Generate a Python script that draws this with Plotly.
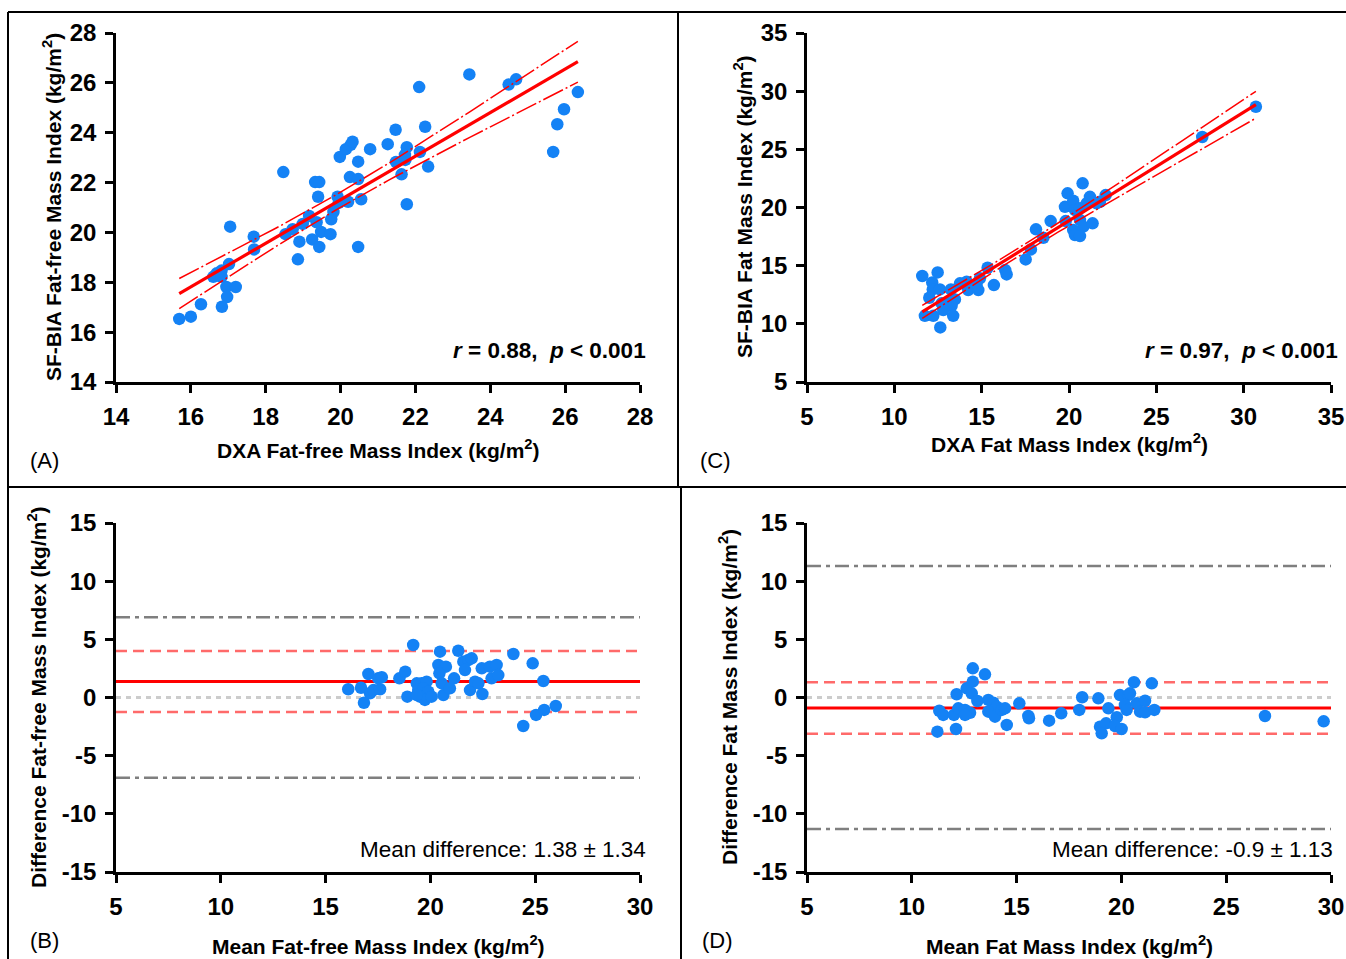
import numpy as np
import plotly.graph_objects as go

W, H = 1346, 959

# ---------------- DATA ----------------
# Panel A: DXA FFMI (x) vs SF-BIA FFMI (y)
a_x = [15.69, 16.00, 16.27, 16.60, 16.69, 16.82, 16.82, 17.02, 16.95, 17.20, 16.97, 16.83,
       17.05, 17.68, 17.69, 18.47, 18.53, 18.72, 18.90, 18.86, 18.99, 19.16, 19.24, 19.36,
       19.43, 19.48, 19.73, 19.32, 19.43, 19.40, 19.75, 19.81, 19.92, 19.95, 20.20, 19.98,
       20.14, 20.27, 20.32, 20.47, 20.25, 20.47, 20.55, 20.47, 20.79, 21.26, 21.47, 21.48,
       21.63, 21.77, 21.77, 21.72, 21.73, 22.12, 22.26, 22.10, 22.34, 23.44, 24.49, 24.69,
       25.68, 25.79, 25.97, 26.34]
a_y = [16.53, 16.62, 17.12, 18.22, 18.36, 18.47, 18.22, 18.73, 17.81, 17.81, 17.41, 17.02,
       20.23, 19.83, 19.32, 22.42, 19.93, 20.13, 19.63, 18.92, 20.34, 20.66, 19.72, 20.41,
       19.42, 20.02, 19.93, 22.02, 22.02, 21.43, 20.53, 20.82, 21.43, 21.19, 21.23, 23.03,
       23.34, 23.51, 23.64, 22.84, 22.22, 22.14, 21.33, 19.42, 23.34, 23.54, 24.12, 22.83,
       22.33, 21.13, 23.42, 23.11, 22.91, 23.23, 24.24, 25.83, 22.64, 26.34, 25.93, 26.14,
       23.23, 24.34, 24.94, 25.63]

# Panel C: DXA FMI (x) vs SF-BIA FMI (y)
c_x = [11.60, 12.48, 12.17, 12.20, 12.61, 13.24, 12.00, 12.71, 13.09, 13.47, 13.28, 12.80,
       11.75, 12.23, 13.37, 12.63, 13.76, 14.14, 14.33, 14.71, 14.90, 14.23, 14.81, 15.34,
       15.70, 16.35, 16.43, 17.52, 17.82, 18.11, 18.53, 18.95, 19.81, 19.77, 19.92, 20.24,
       20.78, 20.34, 20.63, 21.01, 21.20, 20.63, 20.82, 20.24, 20.34, 20.63, 21.35, 21.58,
       21.77, 22.10, 27.63, 30.70]
c_y = [14.11, 14.42, 13.56, 12.96, 12.96, 12.96, 12.24, 11.76, 11.76, 12.10, 11.55, 11.18,
       10.69, 10.69, 10.69, 9.69, 13.48, 13.62, 13.19, 13.33, 13.91, 12.90, 12.90, 14.82,
       13.33, 14.62, 14.25, 15.54, 16.40, 18.12, 17.40, 18.83, 18.83, 20.06, 21.22, 20.58,
       22.08, 19.78, 19.93, 20.36, 20.92, 18.92, 18.35, 18.06, 17.63, 17.54, 18.64, 20.36,
       20.49, 21.07, 26.06, 28.66]

# Panel B: Bland-Altman FFMI
b_mean = [16.08, 16.69, 17.04, 16.83, 17.12, 17.28, 17.60, 17.51, 17.68, 18.52, 18.80, 18.90,
          19.18, 19.35, 19.58, 19.82, 19.42, 19.66, 19.90, 19.50, 19.74, 20.06, 19.35, 20.46,
          20.38, 20.74, 20.43, 20.54, 20.62, 20.93, 21.13, 21.33, 21.57, 21.81, 21.97, 21.65,
          21.89, 22.13, 22.29, 22.48, 22.45, 22.84, 23.16, 22.92, 23.24, 23.96, 24.88, 25.39,
          24.43, 25.04, 25.43, 25.98]
b_diff = [0.71, 0.84, 2.02, -0.45, 0.36, 0.64, 0.71, 1.65, 1.74, 1.65, 2.22, 0.07,
          4.51, 1.22, 1.22, 1.36, 0.64, 0.79, 0.50, 0.07, -0.21, 0.07, 0.21, 3.94,
          2.79, 2.65, 2.08, 1.22, 0.21, 0.79, 1.65, 4.02, 3.08, 3.22, 3.37, 2.36,
          0.64, 1.36, 1.22, 0.30, 2.51, 2.65, 2.79, 1.65, 1.93, 3.74, 2.94, 1.42,
          -2.45, -1.50, -1.07, -0.73]
b_bias, b_sd, b_limit = 1.38, 1.34, 6.9

# Panel D: Bland-Altman FMI
d_mean = [11.31, 11.50, 11.22, 12.11, 12.01, 12.14, 12.22, 12.54, 12.78, 12.54, 12.62, 12.86,
          12.91, 12.91, 13.13, 13.49, 13.65, 13.89, 14.05, 13.65, 13.97, 14.29, 14.45, 14.53,
          15.13, 15.56, 15.59, 16.55, 17.13, 17.99, 18.13, 18.90, 19.38, 18.98, 19.27, 19.06,
          19.78, 19.69, 20.01, 19.93, 20.33, 20.41, 20.17, 20.25, 20.60, 20.73, 21.13, 20.89,
          21.13, 21.45, 21.57, 26.85, 29.65]
d_diff = [-1.14, -1.50, -2.94, -2.71, -1.50, 0.28, -0.93, -1.07, -1.31, -1.50, 0.79, 0.36,
          1.36, 2.51, -0.30, 1.99, -0.21, -0.45, -0.79, -1.22, -1.65, -1.07, -0.93, -2.36,
          -0.50, -1.59, -1.79, -1.99, -1.36, -1.07, 0.02, -0.07, -0.93, -2.51, -2.22, -3.08,
          -1.70, -2.45, -2.71, 0.21, 0.21, 0.36, -0.64, -1.07, 1.31, -0.50, -0.28, -1.22,
          -1.27, 1.22, -1.07, -1.59, -2.05]
d_bias, d_sd, d_limit = -0.9, 1.13, 11.3

# tick values / labels
a_ticks = [14, 16, 18, 20, 22, 24, 26, 28]
c_ticks = [5, 10, 15, 20, 25, 30, 35]
ba_xticks = [5, 10, 15, 20, 25, 30]
ba_yticks = [-15, -10, -5, 0, 5, 10, 15]

# ---------------- STYLE ----------------
BLUE = "#1482f5"
RED = "#ff0000"
LRED = "#ff6a6a"
GRAY = "#7f7f7f"
LGRAY = "#cccccc"
TICKFONT = dict(family="Liberation Sans, Arial", size=24, color="black", weight="bold")
TITLEFONT = dict(family="Liberation Sans Narrow, Arial Narrow, Liberation Sans", size=21,
                 color="black", weight="bold")


def px_x(p):
    return p / W


def px_y(p):
    return 1 - p / H


fig = go.Figure()


def fit_lines(x, y, xa, ya):
    x = np.asarray(x); y = np.asarray(y)
    n = len(x)
    b, a = np.polyfit(x, y, 1)
    xs = np.linspace(min(x), max(x), 60)
    yhat = a + b * xs
    res = y - (a + b * x)
    s = np.sqrt(np.sum(res ** 2) / (n - 2))
    sxx = np.sum((x - x.mean()) ** 2)
    se = s * np.sqrt(1 / n + (xs - x.mean()) ** 2 / sxx)
    t = 1.998
    for yy in (yhat + t * se, yhat - t * se):
        fig.add_trace(go.Scatter(x=xs, y=yy, mode="lines", xaxis=xa, yaxis=ya,
                                 line=dict(color=RED, width=1.5, dash="22px,3px,2px,3px"),
                                 showlegend=False, hoverinfo="skip"))
    fig.add_trace(go.Scatter(x=xs, y=yhat, mode="lines", xaxis=xa, yaxis=ya,
                             line=dict(color=RED, width=3.2), showlegend=False))


def scatter(x, y, xa, ya):
    fig.add_trace(go.Scatter(x=x, y=y, mode="markers", xaxis=xa, yaxis=ya,
                             marker=dict(color=BLUE, size=12.5, line=dict(width=0)),
                             showlegend=False))


def ba_lines(xa, ya, xr, bias, sd, limit):
    x0, x1 = xr
    specs = [
        ([limit, limit], GRAY, 2.5, "14px,5px,4px,5px"),
        ([-limit, -limit], GRAY, 2.5, "14px,5px,4px,5px"),
        ([0, 0], LGRAY, 3, "5px,5px"),
        ([bias + 1.96 * sd] * 2, LRED, 2.5, "11px,6px"),
        ([bias - 1.96 * sd] * 2, LRED, 2.5, "11px,6px"),
        ([bias, bias], RED, 3, "solid"),
    ]
    for yy, col, w, dash in specs:
        fig.add_trace(go.Scatter(x=[x0, x1], y=yy, mode="lines", xaxis=xa, yaxis=ya,
                                 line=dict(color=col, width=w, dash=dash),
                                 showlegend=False, hoverinfo="skip"))


# Panel A
scatter(a_x, a_y, "x", "y")
fit_lines(a_x, a_y, "x", "y")
# Panel C
scatter(c_x, c_y, "x2", "y2")
fit_lines(c_x, c_y, "x2", "y2")
# Panel B
ba_lines("x3", "y3", (ba_xticks[0], ba_xticks[-1]), b_bias, b_sd, b_limit)
scatter(b_mean, b_diff, "x3", "y3")
# Panel D
ba_lines("x4", "y4", (ba_xticks[0], ba_xticks[-1]), d_bias, d_sd, d_limit)
scatter(d_mean, d_diff, "x4", "y4")

ax_common = dict(showline=True, linecolor="black", linewidth=2.5, ticks="outside",
                 ticklen=8, tickwidth=2.5, tickcolor="black", showgrid=False,
                 zeroline=False, tickfont=TICKFONT, fixedrange=True, automargin=False,
                 tickmode="array")


def ax(domain, ticks, anchor, standoff):
    return dict(ax_common, domain=domain, range=[ticks[0], ticks[-1]], anchor=anchor,
                tickvals=ticks, ticktext=[str(t) for t in ticks],
                ticklabelstandoff=standoff)


dom_left = [px_x(116), px_x(640)]
dom_right = [px_x(807), px_x(1331)]
dom_top = [px_y(382), px_y(33)]
dom_bot = [px_y(872), px_y(523)]

fig.update_layout(
    width=W, height=H,
    margin=dict(l=0, r=0, t=0, b=0, pad=0),
    paper_bgcolor="white", plot_bgcolor="white",
    xaxis=ax(dom_left, a_ticks, "y", 3),
    yaxis=ax(dom_top, a_ticks, "x", 4),
    xaxis2=ax(dom_right, c_ticks, "y2", 3),
    yaxis2=ax(dom_top, c_ticks, "x2", 4),
    xaxis3=ax(dom_left, ba_xticks, "y3", 3),
    yaxis3=ax(dom_bot, ba_yticks, "x3", 4),
    xaxis4=ax(dom_right, ba_xticks, "y4", 3),
    yaxis4=ax(dom_bot, ba_yticks, "x4", 4),
)

ann = []


def text(xp, yp, s, font, xanchor="center", yanchor="middle", angle=0):
    ann.append(dict(x=px_x(xp), y=px_y(yp), xref="paper", yref="paper", text=s,
                    showarrow=False, font=font, xanchor=xanchor, yanchor=yanchor,
                    textangle=angle))


# axis titles
text(378, 449, "DXA Fat-free Mass Index (kg/m<sup>2</sup>)", TITLEFONT)
text(1069, 443, "DXA Fat Mass Index (kg/m<sup>2</sup>)", TITLEFONT)
text(378, 945, "Mean Fat-free Mass Index (kg/m<sup>2</sup>)", TITLEFONT)
text(1069, 945, "Mean Fat Mass Index (kg/m<sup>2</sup>)", TITLEFONT)
text(52, 207, "SF-BIA Fat-free Mass Index (kg/m<sup>2</sup>)", TITLEFONT, angle=-90)
text(743, 207, "SF-BIA Fat Mass Index (kg/m<sup>2</sup>)", TITLEFONT, angle=-90)
text(37, 697, "Difference Fat-free Mass Index (kg/m<sup>2</sup>)", TITLEFONT, angle=-90)
text(728, 697, "Difference Fat Mass Index (kg/m<sup>2</sup>)", TITLEFONT, angle=-90)

# stats
STAT = dict(family="Liberation Sans, Arial", size=22.5, color="black", weight="bold")
text(648, 350, "<i>r</i> = 0.88,  <i>p</i> < 0.001", STAT, xanchor="right")
text(1340, 350, "<i>r</i> = 0.97,  <i>p</i> < 0.001", STAT, xanchor="right")
MD = dict(family="Liberation Sans, Arial", size=22.5, color="black")
text(648, 849, f"Mean difference: {b_bias} ± {b_sd}", MD, xanchor="right")
text(1335, 849, f"Mean difference: {d_bias} ± {d_sd}", MD, xanchor="right")

# panel labels
LBL = dict(family="Liberation Sans, Arial", size=22, color="black")
text(28, 461, "(A)", LBL, xanchor="left")
text(698, 461, "(C)", LBL, xanchor="left")
text(28, 940, "(B)", LBL, xanchor="left")
text(700, 940, "(D)", LBL, xanchor="left")

fig.update_layout(annotations=ann)

# frame lines
frame = [
    (8, 12, 1346, 12), (8, 12, 8, 959), (8, 487, 1346, 487),
    (678, 12, 678, 487), (681, 487, 681, 959),
]
shapes = []
for x0, y0, x1, y1 in frame:
    shapes.append(dict(type="line", xref="paper", yref="paper",
                       x0=px_x(x0), y0=px_y(y0), x1=px_x(x1), y1=px_y(y1),
                       line=dict(color="black", width=2)))
fig.update_layout(shapes=shapes)

js = "document.body.style.margin='0'; document.body.style.overflow='hidden';"
fig.write_html("out.html", post_script=js, config={"displayModeBar": False})
